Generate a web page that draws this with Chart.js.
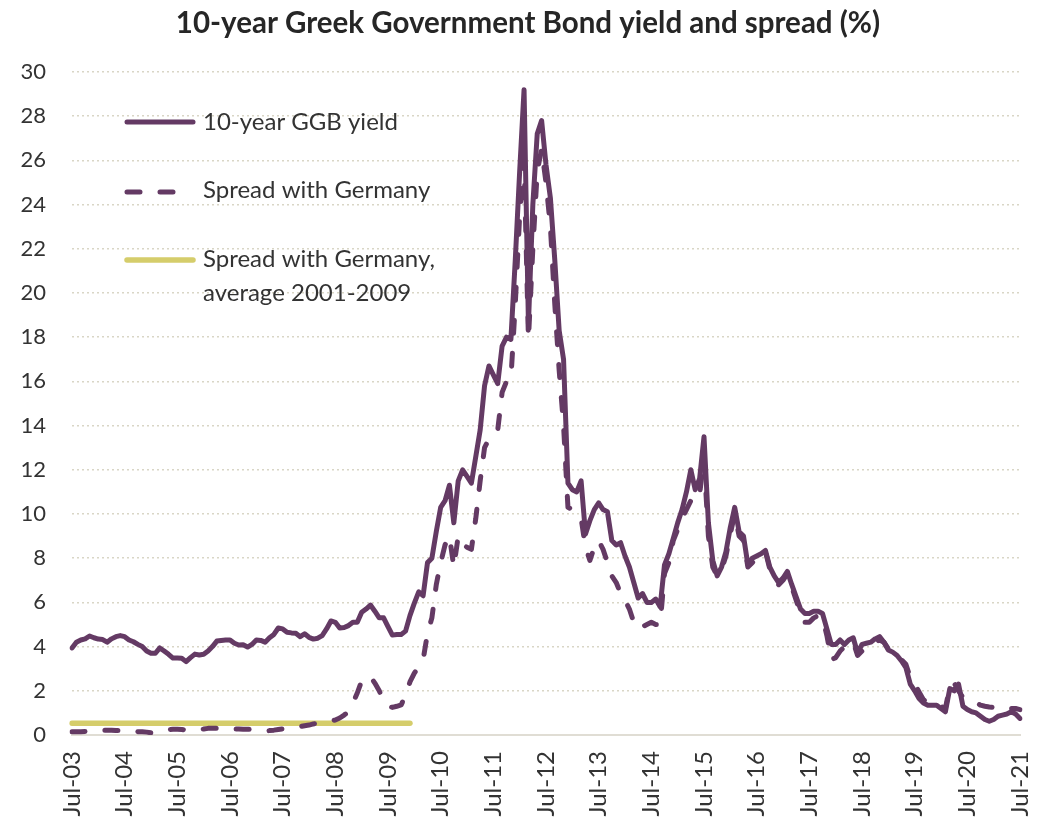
<!DOCTYPE html>
<html>
<head>
<meta charset="utf-8">
<title>10-year Greek Government Bond yield and spread</title>
<script src="https://cdn.jsdelivr.net/npm/chart.js@4.4.1/dist/chart.umd.min.js"></script>
<style>
  html, body { margin: 0; padding: 0; background: #fff; overflow: hidden; }
  #wrap { position: relative; width: 1038px; height: 819px; }
</style>
</head>
<body>
<div id="wrap"><canvas id="bondChart"></canvas></div>
<script>
// Monthly observations, Jul-03 .. Jul-21
const monthNames = ['Jan', 'Feb', 'Mar', 'Apr', 'May', 'Jun', 'Jul', 'Aug', 'Sep', 'Oct', 'Nov', 'Dec'];
const months = [];
for (let y = 2003; y <= 2021; y++) {
  for (let m = 0; m < 12; m++) {
    if ((y === 2003 && m < 6) || (y === 2021 && m > 6)) continue;
    months.push(monthNames[m] + '-' + String(y).slice(2));
  }
}

// labels actually printed on the x axis
const yearTicks = ['Jul-03', 'Jul-04', 'Jul-05', 'Jul-06', 'Jul-07', 'Jul-08', 'Jul-09', 'Jul-10', 'Jul-11',
  'Jul-12', 'Jul-13', 'Jul-14', 'Jul-15', 'Jul-16', 'Jul-17', 'Jul-18', 'Jul-19', 'Jul-20', 'Jul-21'];

// 10-year GGB yield (%)
const ggbYield = [
  3.94, 4.2, 4.3, 4.35, 4.48, 4.4, 4.34, 4.32, 4.2, 4.35, 4.45, 4.5,
  4.45, 4.3, 4.22, 4.1, 4.0, 3.8, 3.7, 3.7, 3.94, 3.8, 3.65, 3.48,
  3.48, 3.47, 3.32, 3.5, 3.66, 3.62, 3.65, 3.8, 4.0, 4.25, 4.28, 4.3,
  4.3, 4.15, 4.07, 4.08, 3.98, 4.1, 4.3, 4.28, 4.2, 4.4, 4.55, 4.84,
  4.8, 4.65, 4.62, 4.6, 4.45, 4.58, 4.42, 4.34, 4.38, 4.5, 4.8, 5.16,
  5.1, 4.84, 4.86, 4.95, 5.1, 5.1, 5.55, 5.7, 5.88, 5.6, 5.3, 5.3,
  4.9, 4.52, 4.55, 4.55, 4.7, 5.4, 5.97, 6.48, 6.3, 7.8, 8.0, 9.2,
  10.3, 10.6, 11.3, 9.6, 11.5, 12.0, 11.7, 11.4, 12.6, 13.8, 15.8, 16.7,
  16.3, 15.9, 17.6, 18.0, 17.9, 21.5, 25.5, 29.2, 18.6, 24.0, 27.2, 27.8,
  25.8, 24.3, 21.5, 18.3, 17.0, 11.4, 11.1, 11.0, 11.5, 9.1, 9.7, 10.2,
  10.5, 10.2, 10.1, 8.8, 8.6, 8.7, 8.1, 7.6, 6.9, 6.2, 6.4, 6.0,
  6.0, 6.15, 5.8, 7.7, 8.2, 8.9, 9.6, 10.2, 11.0, 12.0, 11.1, 11.6,
  13.5, 9.6, 7.9, 7.2, 7.6, 8.3, 9.4, 10.3, 9.2, 9.0, 7.7, 8.0,
  8.1, 8.2, 8.35, 7.6, 7.2, 6.9, 7.1, 7.4, 6.8, 6.25, 5.7, 5.5,
  5.5, 5.6, 5.6, 5.5, 4.8, 4.1, 4.1, 4.3, 4.1, 4.3, 4.4, 3.7,
  4.1, 4.15, 4.2, 4.35, 4.45, 4.2, 3.85, 3.75, 3.6, 3.35, 3.05, 2.3,
  2.0, 1.65, 1.45, 1.35, 1.35, 1.35, 1.2, 1.05, 2.1, 2.0, 2.3, 1.3,
  1.15, 1.05, 1.0, 0.85, 0.7, 0.62, 0.7, 0.85, 0.9, 0.95, 1.05, 0.95, 0.75
];

// spread over the German Bund (percentage points)
const spreadDe = [
  0.15, 0.15, 0.15, 0.16, 0.15, 0.18, 0.2, 0.22, 0.22, 0.22, 0.2, 0.2,
  0.2, 0.18, 0.17, 0.15, 0.15, 0.13, 0.1, 0.12, 0.18, 0.22, 0.25, 0.26,
  0.26, 0.25, 0.22, 0.2, 0.22, 0.24, 0.27, 0.3, 0.3, 0.3, 0.29, 0.28,
  0.27, 0.27, 0.27, 0.26, 0.26, 0.25, 0.22, 0.2, 0.18, 0.2, 0.22, 0.25,
  0.28, 0.3, 0.33, 0.35, 0.38, 0.42, 0.45, 0.5, 0.52, 0.55, 0.6, 0.65,
  0.68, 0.77, 0.9, 1.05, 1.45, 1.9, 2.45, 2.6, 2.65, 2.35, 2.0, 1.55,
  1.3, 1.25, 1.3, 1.36, 1.8, 2.4, 2.8, 3.1, 3.4, 4.6, 5.3, 6.8,
  7.8, 8.6, 9.0, 7.6, 9.0, 8.6, 8.5, 8.4, 9.8, 11.5, 13.0, 13.4,
  13.6, 13.8, 15.5, 16.0, 16.1, 19.5, 23.5, 26.0, 17.9, 22.0, 25.5, 26.5,
  25.0, 23.0, 19.5, 16.5, 14.0, 10.3, 10.2, 10.0, 9.8, 8.5, 7.9, 8.5,
  8.8, 8.4, 7.8, 7.2, 6.9, 6.4, 6.1, 5.7, 5.1, 4.8, 4.9, 5.0,
  5.1, 5.0, 5.0, 7.3, 7.8, 8.8, 9.3, 9.8, 10.2, 10.6, 10.5, 10.9,
  12.5, 9.0, 7.6, 7.2, 7.5, 8.1, 9.1, 10.0, 9.0, 8.8, 7.6, 7.8,
  8.0, 8.1, 8.3, 7.5, 7.1, 6.8, 7.0, 7.3, 6.7, 6.1, 5.5, 5.1,
  5.1, 5.3, 5.4, 5.3, 4.5, 3.4, 3.5, 3.8, 4.0, 4.1, 4.2, 3.6,
  3.8, 4.0, 4.1, 4.2, 4.3, 4.2, 3.9, 3.8, 3.7, 3.4, 3.2, 2.6,
  2.3, 1.95, 1.6, 1.45, 1.4, 1.4, 1.3, 1.2, 2.2, 2.35, 2.0, 1.7,
  1.6, 1.5, 1.45, 1.35, 1.3, 1.27, 1.25, 1.3, 1.3, 1.25, 1.2, 1.2, 1.15
];

// 2001-2009 average spread, drawn over the pre-crisis months
const avgSpread = 0.53;
const avgFrom = 'Jul-03';
const avgTo = 'Dec-09';

const PURPLE = '#643a64';
const OLIVE = '#d5cd6b';
const TEXT = '#333333';
const FONT = 'Lato, "Open Sans", sans-serif';

// title + hand-placed legend block
const decorations = {
  id: 'decorations',
  afterDraw(chart) {
    const ctx = chart.ctx;
    ctx.save();
    ctx.fillStyle = '#262626';
    ctx.font = 'bold 29.5px ' + FONT;
    ctx.textAlign = 'center';
    ctx.textBaseline = 'middle';
    ctx.fillText('10-year Greek Government Bond yield and spread (%)', 528, 23);

    ctx.lineCap = 'round';
    ctx.lineWidth = 5;
    // solid yield sample
    ctx.strokeStyle = PURPLE;
    ctx.beginPath(); ctx.moveTo(127, 122); ctx.lineTo(193, 122); ctx.stroke();
    // dashed spread sample
    ctx.setLineDash([13, 20]);
    ctx.beginPath(); ctx.moveTo(127, 192); ctx.lineTo(180, 192); ctx.stroke();
    ctx.setLineDash([]);
    // average spread sample
    ctx.strokeStyle = OLIVE;
    ctx.lineWidth = 5.5;
    ctx.beginPath(); ctx.moveTo(127, 260); ctx.lineTo(193, 260); ctx.stroke();

    ctx.fillStyle = TEXT;
    ctx.font = '24px ' + FONT;
    ctx.textAlign = 'left';
    ctx.fillText('10-year GGB yield', 203, 122);
    ctx.fillText('Spread with Germany', 203, 190);
    ctx.fillText('Spread with Germany,', 203, 259);
    ctx.fillText('average 2001-2009', 203, 293);
    ctx.restore();
  }
};

Chart.defaults.font.family = FONT;
Chart.defaults.color = TEXT;

const ctx = document.getElementById('bondChart').getContext('2d');
new Chart(ctx, {
  type: 'line',
  data: {
    labels: months,
    datasets: [
      {
        label: '10-year GGB yield',
        data: ggbYield,
        borderColor: PURPLE,
        borderWidth: 5,
        pointRadius: 0,
        tension: 0,
        borderJoinStyle: 'round',
        borderCapStyle: 'round'
      },
      {
        label: 'Spread with Germany',
        data: spreadDe,
        borderColor: PURPLE,
        borderWidth: 5,
        borderDash: [13, 20],
        pointRadius: 0,
        tension: 0,
        borderJoinStyle: 'round',
        borderCapStyle: 'round'
      },
      {
        label: 'Spread with Germany, average 2001-2009',
        data: [{ x: avgFrom, y: avgSpread }, { x: avgTo, y: avgSpread }],
        borderColor: OLIVE,
        borderWidth: 5.5,
        pointRadius: 0,
        borderCapStyle: 'round'
      }
    ]
  },
  options: {
    responsive: true,
    maintainAspectRatio: false,
    animation: false,
    layout: { padding: { top: 72, right: 18, left: 0, bottom: 0 } },
    plugins: {
      legend: { display: false },
      title: { display: false },
      tooltip: { enabled: false }
    },
    scales: {
      x: {
        type: 'category',
        offset: false,
        grid: { display: false, drawTicks: false },
        border: { display: true, color: '#e0ddd4', width: 2 },
        afterFit: (scale) => {
          scale.height = 84;
          // keep the rotated end labels from shrinking the plot
          scale.paddingLeft = 0;
          scale.paddingRight = 0;
        },
        ticks: {
          autoSkip: false,
          minRotation: 90,
          maxRotation: 90,
          padding: 16,
          font: { size: 24 },
          color: TEXT,
          callback: function (value) {
            const lbl = this.getLabelForValue(value);
            return yearTicks.includes(lbl) ? lbl : null;
          }
        }
      },
      y: {
        min: 0,
        max: 30,
        afterFit: (scale) => { scale.width = 72; },
        grid: { color: '#d9d6c6', lineWidth: 1.5, drawTicks: false },
        border: { display: false, dash: [2, 3] },
        ticks: {
          stepSize: 2,
          padding: 26,
          font: { size: 22 },
          color: TEXT
        }
      }
    }
  },
  plugins: [decorations]
});
</script>
</body>
</html>
